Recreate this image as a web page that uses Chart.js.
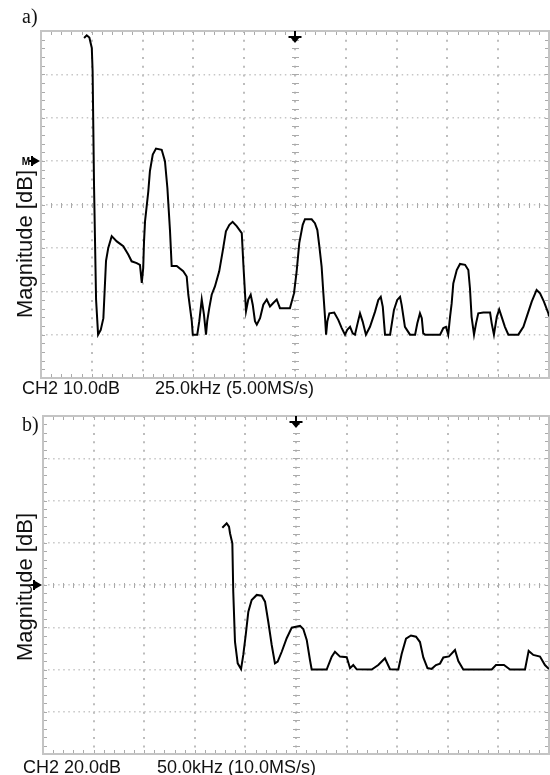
<!DOCTYPE html>
<html>
<head>
<meta charset="utf-8">
<script src="https://cdn.jsdelivr.net/npm/chart.js@4.4.1/dist/chart.umd.min.js"></script>
<style>
  body { margin: 0; background: #fff; }
  #page { position: relative; width: 550px; height: 775px; overflow: hidden;
          font-family: "Liberation Sans", Arial, sans-serif; color: #111; }
  canvas { position: absolute; left: 0; }
  .tag  { position: absolute; font-family: "Liberation Serif", "Times New Roman", serif;
          font-size: 20px; line-height: 20px; }
  .ylab { position: absolute; font-size: 22px; line-height: 22px; white-space: nowrap;
          transform: translate(-50%, -50%) rotate(-90deg); }
  .foot { position: absolute; font-size: 18px; line-height: 18px; white-space: nowrap; }
</style>
</head>
<body>
<div id="page">
  <canvas id="specA" width="550" height="392" style="top:0"></canvas>
  <canvas id="specB" width="550" height="383" style="top:392px"></canvas>

  <div class="tag" style="left:22px; top:6px">a)</div>
  <div class="ylab" style="left:25px; top:244px">Magnitude [dB]</div>
  <div class="foot" style="left:22px; top:379px">CH2 10.0dB</div>
  <div class="foot" style="left:155px; top:379px">25.0kHz (5.00MS/s)</div>

  <div class="tag" style="left:22px; top:414px">b)</div>
  <div class="ylab" style="left:25px; top:587px">Magnitude [dB]</div>
  <div class="foot" style="left:23px; top:758px">CH2 20.0dB</div>
  <div class="foot" style="left:157px; top:758px">50.0kHz (10.0MS/s)</div>
</div>

<script>
// spectrum a) : 25 kHz/div, 10 dB/div
const freqA = [21.2, 22.5, 23.8, 25.0, 25.4, 26.1, 27.1, 28.1, 29.4, 30.7,
  32.0, 33.1, 34.8, 37.3, 40.5, 43.0, 44.6, 47.1, 48.7, 49.6,
  50.3, 50.7, 51.2, 52.8, 53.6, 55.0, 56.6, 59.4, 61.0, 62.2,
  63.5, 64.3, 66.8, 70.0, 71.7, 72.5, 74.2, 74.7, 76.9, 77.9,
  79.1, 80.2, 81.2, 81.8, 82.8, 84.0, 85.6, 87.7, 89.4, 91.0,
  92.7, 94.3, 96.3, 98.8, 99.6, 100.9, 102.0, 103.2, 104.2, 105.3,
  106.2, 107.8, 109.4, 111.1, 112.7, 114.3, 116.0, 117.6, 122.5, 124.5,
  125.8, 127.1, 128.8, 129.9, 133.2, 134.8, 136.0, 137.0, 138.1, 138.9,
  139.8, 140.3, 140.9, 141.9, 144.3, 146.3, 148.0, 149.6, 150.7, 152.1,
  153.4, 154.5, 156.2, 157.0, 158.3, 159.9, 161.9, 164.4, 166.0, 167.2,
  168.2, 169.3, 171.8, 173.7, 175.3, 176.7, 177.5, 179.1, 181.6, 184.1,
  185.2, 186.5, 187.4, 188.1, 189.0, 196.4, 198.0, 199.3, 200.4, 201.3,
  202.1, 202.9, 204.6, 206.2, 208.7, 210.3, 211.1, 211.9, 213.1, 214.1,
  215.2, 217.7, 221.0, 221.8, 222.9, 224.3, 225.5, 226.7, 228.3, 230.0,
  234.9, 237.4, 239.3, 241.5, 243.9, 245.6, 247.5, 249.7, 250.0];
const magA = [-1.6, -1.0, -1.5, -3.9, -9.3, -35.7, -61.9, -70.0, -68.9, -66.2,
  -53.0, -50.0, -47.3, -48.5, -49.6, -51.6, -53.1, -53.5, -53.9, -58.1,
  -54.6, -48.5, -43.9, -37.0, -32.3, -28.5, -27.1, -27.4, -30.0, -36.2,
  -46.2, -54.2, -54.2, -55.4, -56.6, -60.8, -66.9, -70.0, -70.0, -66.9,
  -61.9, -65.4, -70.0, -66.9, -63.9, -60.8, -58.9, -55.4, -50.8, -46.2,
  -44.7, -44.0, -45.0, -46.6, -53.9, -64.6, -61.9, -60.8, -63.1, -66.9,
  -67.7, -66.2, -63.1, -61.9, -63.5, -62.7, -61.9, -63.9, -63.9, -60.5,
  -55.5, -48.9, -44.7, -43.4, -43.4, -44.3, -45.9, -49.7, -54.3, -60.1,
  -66.2, -70.0, -67.0, -65.1, -64.9, -66.6, -68.5, -70.0, -68.9, -68.2,
  -69.7, -70.0, -66.6, -65.1, -67.0, -70.0, -68.2, -64.7, -62.0, -61.3,
  -63.6, -70.0, -70.0, -64.3, -62.0, -61.3, -63.2, -68.2, -70.0, -70.0,
  -67.4, -65.1, -66.2, -69.7, -70.0, -70.0, -68.5, -68.2, -70.0, -65.9,
  -62.8, -58.2, -55.1, -53.7, -53.9, -55.1, -59.3, -65.9, -70.0, -67.4,
  -65.1, -64.9, -64.9, -67.4, -70.0, -65.9, -64.2, -65.9, -68.2, -70.0,
  -70.0, -68.2, -65.5, -62.4, -59.7, -60.5, -62.4, -65.1, -65.8];

// spectrum b) : 50 kHz/div, 20 dB/div
const freqB = [177.2, 181.5, 183.8, 184.8, 187.1, 188.0, 189.7, 192.4, 195.7, 197.9,
  200.3, 202.9, 206.2, 211.2, 216.1, 219.4, 222.6, 226.0, 229.2, 231.9,
  235.9, 240.8, 245.8, 254.0, 257.2, 260.6, 263.8, 265.5, 280.3, 285.3,
  288.5, 293.5, 300.1, 303.4, 306.6, 310.0, 324.8, 331.3, 337.9, 342.9,
  351.1, 354.4, 358.7, 363.6, 368.6, 372.5, 375.8, 379.9, 384.1, 388.3,
  392.3, 395.6, 401.2, 407.1, 410.4, 415.3, 443.4, 447.6, 455.5, 461.5,
  476.3, 479.9, 484.5, 491.1, 496.0, 500.0];
const magB = [-52.9, -50.8, -52.4, -55.5, -60.3, -83.2, -106.8, -117.1, -119.8, -113.1,
  -103.7, -92.6, -87.1, -84.7, -85.1, -87.9, -97.4, -108.4, -117.1, -116.3,
  -111.6, -105.2, -100.2, -99.3, -100.8, -106.0, -115.5, -120.0, -120.0, -113.9,
  -111.6, -113.9, -114.2, -119.4, -117.9, -119.9, -120.0, -117.9, -114.7, -119.9,
  -120.0, -112.7, -105.4, -103.9, -104.5, -107.0, -114.3, -119.3, -119.7, -117.9,
  -117.2, -114.3, -113.8, -110.8, -116.0, -120.0, -120.0, -117.9, -117.9, -120.0,
  -120.0, -111.2, -113.1, -113.9, -117.9, -119.8];

// screen graticule: frame, minor ticks on the edges and on the centre cross
const graticule = {
  id: 'graticule',
  beforeDatasetsDraw(chart) {
    const { ctx, chartArea: a, scales: { x, y } } = chart;
    const nx = Math.round((x.max - x.min) / x.options.ticks.stepSize) * 5;
    const ny = Math.round((y.max - y.min) / y.options.ticks.stepSize) * 5;
    const cx = Math.round(x.getPixelForValue((x.min + x.max) / 2)) + 0.5;
    const cy = Math.round(y.getPixelForValue((y.min + y.max) / 2)) + 0.5;
    ctx.save();
    ctx.strokeStyle = '#aaaaaa';
    ctx.lineWidth = 1;
    ctx.beginPath();
    for (let i = 1; i < nx; i++) {
      const px = Math.round(x.getPixelForValue(x.min + (x.max - x.min) * i / nx)) + 0.5;
      ctx.moveTo(px, a.top); ctx.lineTo(px, a.top + 4);
      ctx.moveTo(px, a.bottom); ctx.lineTo(px, a.bottom - 4);
      ctx.moveTo(px, cy - 2.5); ctx.lineTo(px, cy + 2.5);
    }
    for (let i = 1; i < ny; i++) {
      const py = Math.round(y.getPixelForValue(y.min + (y.max - y.min) * i / ny)) + 0.5;
      ctx.moveTo(a.left, py); ctx.lineTo(a.left + 4, py);
      ctx.moveTo(a.right, py); ctx.lineTo(a.right - 4, py);
      ctx.moveTo(cx - 3.5, py); ctx.lineTo(cx + 3.5, py);
    }
    ctx.stroke();
    ctx.strokeStyle = '#c4c4c4';
    ctx.lineWidth = 2;
    ctx.strokeRect(a.left, a.top, a.right - a.left, a.bottom - a.top);
    ctx.restore();
  },
  afterDatasetsDraw(chart, args, opts) {
    const { ctx, chartArea: a, scales: { x, y } } = chart;
    ctx.save();
    ctx.fillStyle = '#000';
    ctx.strokeStyle = '#000';
    ctx.lineWidth = 2;
    // trigger position arrow
    const tx = Math.round(x.getPixelForValue((x.min + x.max) / 2));
    const t = a.top;
    ctx.beginPath();
    ctx.moveTo(tx, t); ctx.lineTo(tx, t + 7);
    ctx.moveTo(tx - 6.5, t + 6); ctx.lineTo(tx + 6.5, t + 6);
    ctx.stroke();
    ctx.beginPath();
    ctx.moveTo(tx - 5, t + 6); ctx.lineTo(tx + 5, t + 6); ctx.lineTo(tx, t + 12);
    ctx.closePath(); ctx.fill();
    // reference level marker
    const ry = Math.round(y.getPixelForValue(opts.refLevel));
    const l = a.left - 1;
    ctx.beginPath();
    ctx.moveTo(l - 8, ry - 5); ctx.lineTo(l - 8, ry + 5);
    ctx.moveTo(l - 11, ry); ctx.lineTo(l - 6, ry);
    ctx.stroke();
    ctx.beginPath();
    ctx.moveTo(l - 7, ry - 4); ctx.lineTo(l - 7, ry + 4); ctx.lineTo(l, ry);
    ctx.closePath(); ctx.fill();
    if (opts.refName) {
      ctx.font = 'bold 10px "Liberation Sans", Arial, sans-serif';
      ctx.textBaseline = 'middle';
      ctx.textAlign = 'right';
      ctx.fillText(opts.refName, l - 10, ry + 1);
    }
    ctx.restore();
  }
};

function spectrum(id, freq, mag, xMax, xStep, yMin, yStep, padding, refLevel, refName) {
  // dot spacing: one dot per minor division on vertical lines, two on horizontal lines
  const xGap = (padding.w / (xMax / xStep)) / 10;
  const yGap = (padding.h / (-yMin / yStep)) / 5;
  return new Chart(document.getElementById(id), {
    type: 'line',
    data: {
      datasets: [{
        data: freq.map((f, i) => ({ x: f, y: mag[i] })),
        borderColor: '#000',
        borderWidth: 2,
        pointRadius: 0,
        tension: 0,
        fill: false
      }]
    },
    options: {
      responsive: false,
      animation: false,
      events: [],
      layout: { padding: padding.box },
      plugins: {
        legend: { display: false },
        tooltip: { enabled: false },
        graticule: { refLevel, refName }
      },
      scales: {
        x: {
          type: 'linear', min: 0, max: xMax,
          ticks: { display: false, stepSize: xStep },
          grid: { color: '#bdbdbd', lineWidth: 2, drawTicks: false },
          border: { display: false, dash: [2, yGap - 2] }
        },
        y: {
          type: 'linear', min: yMin, max: 0,
          ticks: { display: false, stepSize: yStep },
          grid: { color: '#c6c6c6', lineWidth: 1.5, drawTicks: false },
          border: { display: false, dash: [1.5, xGap - 1.5] }
        }
      }
    },
    plugins: [graticule]
  });
}

spectrum('specA', freqA, magA, 250, 25, -80, 10,
  { box: { left: 41, top: 31, right: 1, bottom: 14 }, w: 508, h: 347 }, -30, 'M');
spectrum('specB', freqB, magB, 500, 50, -160, 20,
  { box: { left: 43, top: 24, right: 1, bottom: 21 }, w: 506, h: 338 }, -80, '');
</script>
</body>
</html>
